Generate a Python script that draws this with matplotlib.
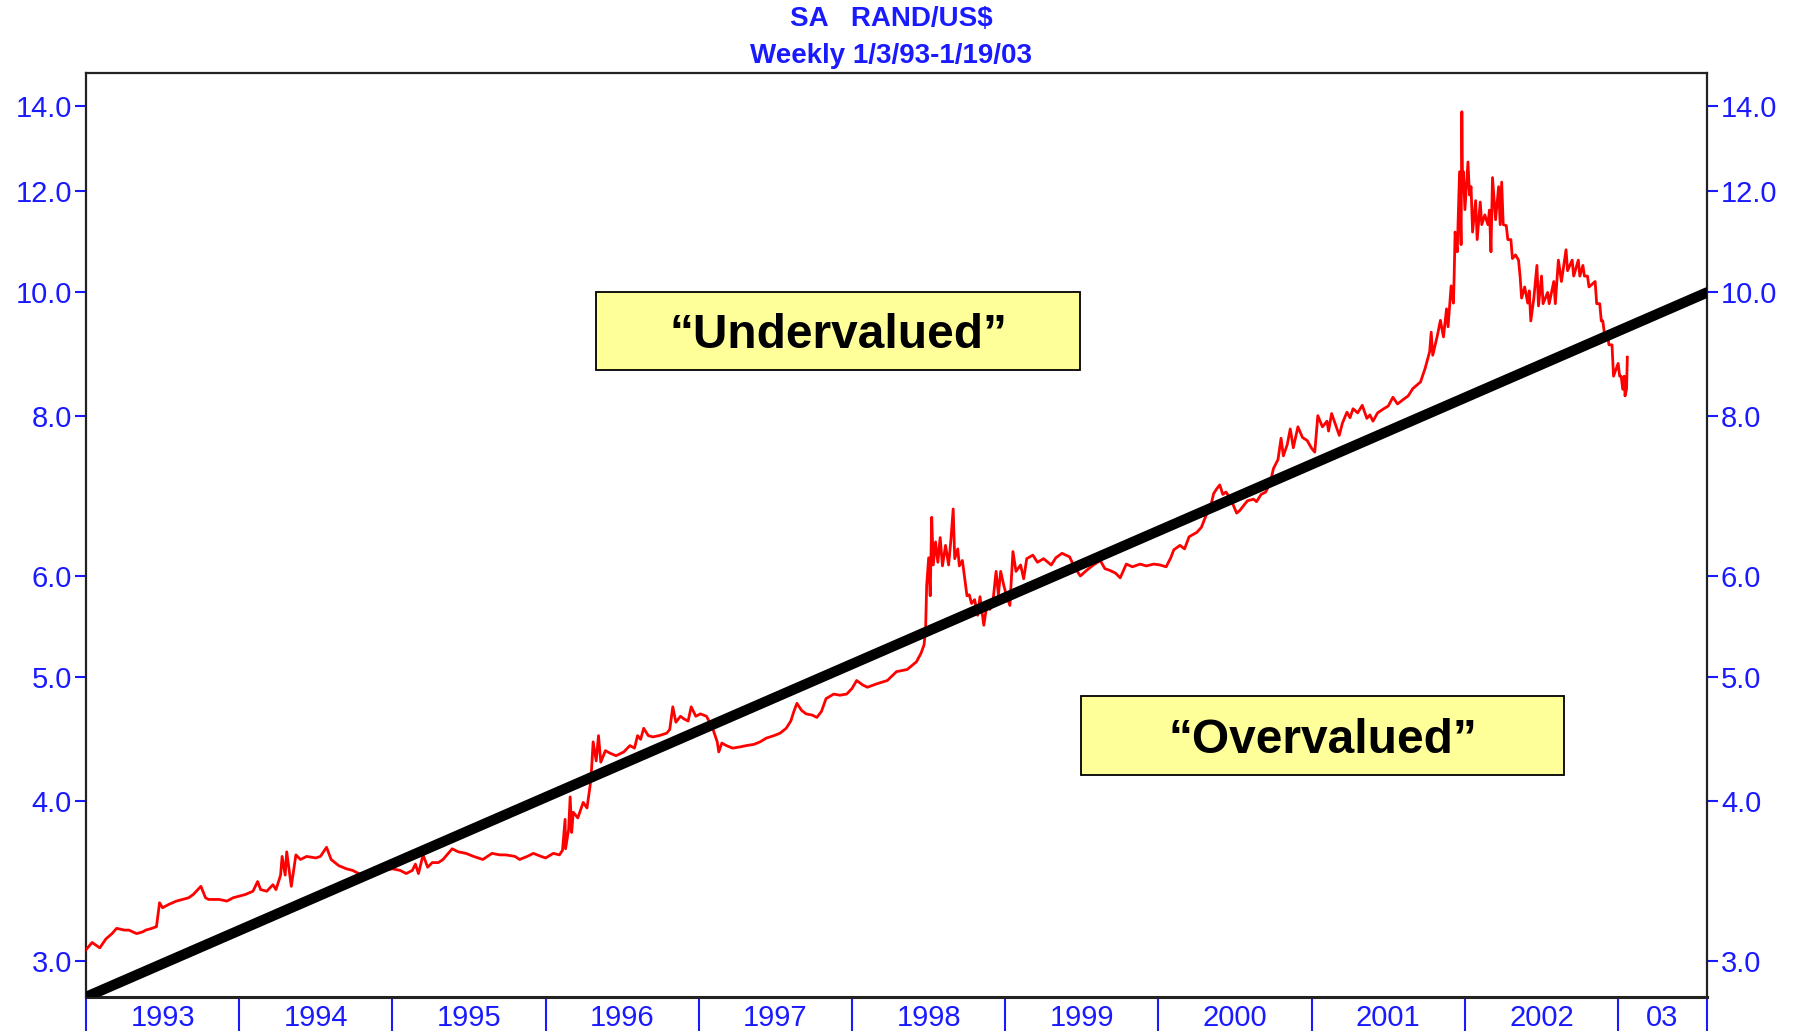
import matplotlib
matplotlib.use("Agg")
import matplotlib.pyplot as plt
from matplotlib.patches import Rectangle
from matplotlib.ticker import FixedLocator, FixedFormatter, NullLocator

# ---------------- data ----------------
title_line1 = "SA   RAND/US$"
title_line2 = "Weekly 1/3/93-1/19/03"

# weekly readings: time in decimal years, rand per US dollar
dates = [
    1993.00, 1993.04, 1993.09, 1993.13, 1993.17, 1993.20, 1993.25, 1993.28, 1993.33, 1993.37,
    1993.39, 1993.43, 1993.46, 1993.48, 1993.50, 1993.54, 1993.59, 1993.63, 1993.67, 1993.70,
    1993.73, 1993.75, 1993.78, 1993.80, 1993.87, 1993.92, 1993.96, 1994.00, 1994.04, 1994.09,
    1994.12, 1994.14, 1994.18, 1994.22, 1994.24, 1994.27, 1994.28, 1994.30, 1994.31, 1994.34,
    1994.37, 1994.40, 1994.44, 1994.50, 1994.53, 1994.57, 1994.60, 1994.65, 1994.70, 1994.74,
    1994.78, 1994.83, 1994.87, 1994.92, 1995.00, 1995.05, 1995.09, 1995.13, 1995.15, 1995.17,
    1995.20, 1995.23, 1995.26, 1995.30, 1995.33, 1995.39, 1995.43, 1995.48, 1995.53, 1995.59,
    1995.65, 1995.70, 1995.74, 1995.80, 1995.83, 1995.88, 1995.92, 1995.97, 1996.00, 1996.05,
    1996.09,
    1996.11, 1996.127, 1996.13, 1996.15, 1996.16, 1996.17, 1996.18, 1996.21, 1996.245, 1996.27,
    1996.29, 1996.30, 1996.31, 1996.33, 1996.345, 1996.36, 1996.39, 1996.42, 1996.46, 1996.51,
    1996.55, 1996.58, 1996.60, 1996.62, 1996.64, 1996.67, 1996.70, 1996.74, 1996.79, 1996.81,
    1996.83, 1996.85, 1996.88, 1996.90, 1996.93, 1996.95, 1996.98, 1997.01, 1997.05, 1997.09,
    1997.12, 1997.13, 1997.15, 1997.18, 1997.22, 1997.27, 1997.31, 1997.36, 1997.40, 1997.44,
    1997.49, 1997.53, 1997.57, 1997.60, 1997.62, 1997.64, 1997.67, 1997.70, 1997.74, 1997.77,
    1997.80, 1997.83, 1997.88, 1997.92, 1997.965, 1998.00, 1998.03, 1998.07, 1998.10, 1998.16,
    1998.23, 1998.29, 1998.36, 1998.42, 1998.45, 1998.47,
    1998.48, 1998.487, 1998.50, 1998.51, 1998.52, 1998.53, 1998.545, 1998.56, 1998.575, 1998.59,
    1998.61, 1998.63, 1998.645, 1998.66, 1998.67, 1998.69, 1998.70, 1998.72, 1998.75, 1998.765,
    1998.78, 1998.80, 1998.82, 1998.835, 1998.86, 1998.88, 1998.90, 1998.92, 1998.94, 1998.955,
    1998.97, 1998.99, 1999.01, 1999.03, 1999.05, 1999.07, 1999.10, 1999.12, 1999.14, 1999.18,
    1999.21, 1999.25, 1999.30, 1999.33, 1999.37, 1999.42, 1999.45, 1999.49, 1999.53, 1999.575,
    1999.62, 1999.65, 1999.684, 1999.72, 1999.75, 1999.79, 1999.83, 1999.88, 1999.92, 1999.97,
    2000.01, 2000.05, 2000.08, 2000.10, 2000.14, 2000.17, 2000.20, 2000.25, 2000.28, 2000.31,
    2000.34, 2000.36, 2000.38, 2000.40, 2000.42, 2000.44, 2000.47, 2000.49, 2000.51, 2000.53,
    2000.58, 2000.62, 2000.64, 2000.67, 2000.70, 2000.73, 2000.75, 2000.78, 2000.80, 2000.815,
    2000.84, 2000.86, 2000.88, 2000.91, 2000.94, 2000.97, 2001.00, 2001.02, 2001.04, 2001.07,
    2001.10, 2001.11, 2001.13, 2001.16, 2001.18, 2001.20, 2001.23, 2001.25, 2001.27, 2001.30,
    2001.33, 2001.36, 2001.38, 2001.40, 2001.43, 2001.47, 2001.50, 2001.53, 2001.56, 2001.60,
    2001.63, 2001.66, 2001.71, 2001.74, 2001.77, 2001.78, 2001.79, 2001.82, 2001.84,
    2001.86, 2001.88, 2001.89, 2001.91, 2001.925, 2001.93, 2001.936, 2001.95, 2001.965, 2001.975,
    2001.98, 2001.985, 2001.99, 2002.00, 2002.02, 2002.03, 2002.04, 2002.05, 2002.07, 2002.08,
    2002.10, 2002.11, 2002.13, 2002.15, 2002.16, 2002.17, 2002.18, 2002.20, 2002.22, 2002.23,
    2002.24, 2002.25, 2002.27, 2002.28, 2002.30, 2002.31, 2002.33, 2002.35, 2002.36, 2002.37,
    2002.39, 2002.41, 2002.42, 2002.43, 2002.45, 2002.47, 2002.48, 2002.50, 2002.51, 2002.54,
    2002.55, 2002.58, 2002.59, 2002.61, 2002.63, 2002.66, 2002.67, 2002.70, 2002.71, 2002.74,
    2002.75, 2002.77, 2002.78, 2002.80, 2002.81, 2002.85, 2002.86, 2002.88, 2002.89, 2002.90,
    2002.91, 2002.93, 2002.94, 2002.96, 2002.97, 2003.00, 2003.01, 2003.02, 2003.03, 2003.04,
    2003.045, 2003.055, 2003.06,
]
rates = [
    3.06, 3.10, 3.07, 3.12, 3.15, 3.18, 3.17, 3.17, 3.15, 3.16,
    3.17, 3.18, 3.19, 3.33, 3.30, 3.32, 3.34, 3.35, 3.36, 3.38,
    3.41, 3.43, 3.36, 3.35, 3.35, 3.34, 3.36, 3.37, 3.38, 3.40,
    3.46, 3.41, 3.40, 3.44, 3.41, 3.50, 3.62, 3.50, 3.65, 3.43,
    3.63, 3.60, 3.62, 3.61, 3.62, 3.68, 3.60, 3.56, 3.54, 3.53,
    3.51, 3.50, 3.52, 3.53, 3.54, 3.53, 3.51, 3.53, 3.57, 3.51,
    3.63, 3.55, 3.58, 3.58, 3.60, 3.67, 3.65, 3.64, 3.62, 3.60,
    3.64, 3.63, 3.63, 3.62, 3.60, 3.62, 3.64, 3.62, 3.61, 3.64,
    3.63,
    3.66, 3.87, 3.67, 3.80, 4.03, 3.78, 3.92, 3.88, 3.99, 3.95,
    4.11, 4.24, 4.45, 4.30, 4.50, 4.29, 4.38, 4.36, 4.34, 4.37,
    4.42, 4.40, 4.50, 4.47, 4.56, 4.50, 4.49, 4.50, 4.52, 4.55,
    4.74, 4.61, 4.66, 4.64, 4.62, 4.74, 4.66, 4.68, 4.66, 4.56,
    4.45, 4.37, 4.44, 4.42, 4.40, 4.41, 4.42, 4.43, 4.45, 4.48,
    4.50, 4.52, 4.56, 4.62, 4.70, 4.77, 4.71, 4.68, 4.67, 4.65,
    4.70, 4.81, 4.85, 4.84, 4.85, 4.90, 4.97, 4.93, 4.91, 4.94,
    4.97, 5.05, 5.07, 5.14, 5.22, 5.30,
    5.45, 5.90, 6.20, 5.79, 6.67, 6.12, 6.38, 6.15, 6.43, 6.11,
    6.34, 6.12, 6.40, 6.77, 6.19, 6.30, 6.11, 6.17, 5.79, 5.80,
    5.71, 5.75, 5.59, 5.78, 5.49, 5.70, 5.65, 5.74, 6.05, 5.80,
    6.05, 5.90, 5.78, 5.69, 6.27, 6.05, 6.12, 5.97, 6.19, 6.23,
    6.15, 6.19, 6.12, 6.20, 6.25, 6.21, 6.10, 6.00, 6.06, 6.12,
    6.17, 6.08, 6.06, 6.03, 5.98, 6.13, 6.10, 6.13, 6.11, 6.13,
    6.12, 6.10, 6.20, 6.29, 6.34, 6.30, 6.44, 6.49, 6.55, 6.69,
    6.80, 6.96, 7.02, 7.07, 6.95, 6.98, 6.90, 6.81, 6.72, 6.75,
    6.87, 6.89, 6.86, 6.95, 6.98, 7.10, 7.28, 7.40, 7.69, 7.45,
    7.60, 7.82, 7.56, 7.85, 7.70, 7.66, 7.55, 7.50, 8.01, 7.85,
    7.93, 7.79, 8.04, 7.85, 7.73, 7.90, 8.06, 7.98, 8.11, 8.05,
    8.16, 7.97, 8.02, 7.93, 8.05, 8.11, 8.15, 8.28, 8.18, 8.25,
    8.30, 8.41, 8.51, 8.72, 8.99, 9.31, 8.93, 9.25, 9.51,
    9.23, 9.71, 9.40, 10.12, 9.81, 10.32, 11.15, 10.76, 12.43, 10.90,
    13.85, 12.00, 12.43, 11.61, 12.65, 11.92, 12.10, 11.15, 11.80, 11.00,
    11.77, 11.30, 11.50, 11.30, 11.60, 10.76, 12.30, 11.40, 12.10, 11.30,
    12.20, 11.30, 11.28, 11.00, 11.00, 10.63, 10.70, 10.60, 10.30, 9.90,
    10.10, 9.81, 10.03, 9.50, 9.90, 10.50, 9.76, 10.30, 9.80, 10.00,
    9.80, 10.20, 9.80, 10.60, 10.20, 10.80, 10.40, 10.60, 10.30, 10.60,
    10.30, 10.50, 10.30, 10.30, 10.10, 10.20, 9.80, 9.80, 9.50, 9.50,
    9.30, 9.30, 9.10, 9.10, 8.60, 8.80, 8.60, 8.60, 8.40, 8.60,
    8.30, 8.40, 8.90,
]

# trend ("fair value") line: from lower-left corner to 10.0 at the right edge
trend_dates = [1993.0, 2003.58]
trend_values = [2.81, 10.0]

y_ticks = [3.0, 4.0, 5.0, 6.0, 8.0, 10.0, 12.0, 14.0]
y_tick_labels = ["3.0", "4.0", "5.0", "6.0", "8.0", "10.0", "12.0", "14.0"]
year_bounds = [1993, 1994, 1995, 1996, 1997, 1998, 1999, 2000, 2001, 2002, 2003, 2003.58]
year_labels = ["1993", "1994", "1995", "1996", "1997", "1998", "1999", "2000",
               "2001", "2002", "03"]

label_under = "\u201cUndervalued\u201d"
label_over = "\u201cOvervalued\u201d"

# ---------------- styling ----------------
BLUE = "#1a1aff"
FONT = ["Liberation Sans", "DejaVu Sans"]
plt.rcParams["font.family"] = FONT

fig = plt.figure(figsize=(17.95, 10.31), dpi=100)
fig.patch.set_facecolor("white")
ax = fig.add_axes([0.04791, 0.03298, 0.90306, 0.8962])

ax.plot(dates, rates, color="#ff0000", lw=2.0, zorder=3)
ax.plot(trend_dates, trend_values, color="black", lw=7.5,
        solid_capstyle="round", zorder=4)

ax.set_yscale("log")
ax.set_xlim(year_bounds[0], year_bounds[-1])
ax.set_ylim(2.81, 14.85)

ax.yaxis.set_major_locator(FixedLocator(y_ticks))
ax.yaxis.set_major_formatter(FixedFormatter(y_tick_labels))
ax.yaxis.set_minor_locator(NullLocator())
ax.tick_params(axis="y", which="major", direction="out", length=8, width=1.5,
               color=BLUE, labelcolor=BLUE, labelsize=21, pad=2,
               left=True, right=True, labelleft=True, labelright=True)

# x: boundary ticks (long, blue) and centred year labels
ax.xaxis.set_major_locator(FixedLocator(year_bounds))
ax.xaxis.set_major_formatter(FixedFormatter([""] * len(year_bounds)))
mids = [(year_bounds[i] + year_bounds[i + 1]) / 2 for i in range(len(year_bounds) - 1)]
ax.xaxis.set_minor_locator(FixedLocator(mids))
ax.xaxis.set_minor_formatter(FixedFormatter(year_labels))
ax.tick_params(axis="x", which="major", direction="out", length=25, width=1.5,
               color=BLUE)
ax.tick_params(axis="x", which="minor", length=0, labelcolor=BLUE,
               labelsize=21, pad=5)

for s in ax.spines.values():
    s.set_color("#222222")
    s.set_linewidth(1.6)
ax.spines["bottom"].set_linewidth(2.2)

# annotation boxes
for (x0, y0, w, h, txt) in [(0.3146, 0.6786, 0.2986, 0.0844, label_under),
                            (0.6138, 0.2403, 0.2980, 0.0855, label_over)]:
    ax.add_patch(Rectangle((x0, y0), w, h, transform=ax.transAxes,
                           facecolor="#ffff99", edgecolor="black", lw=1.3,
                           zorder=5))
    ax.text(x0 + w / 2, y0 + h / 2 - 0.005, txt, transform=ax.transAxes,
            ha="center", va="center", fontsize=34.5, fontweight="bold",
            color="black", zorder=6)

fig.text(0.4964, 0.9815, title_line1, ha="center", va="center",
         fontsize=20, fontweight="bold", color=BLUE)
fig.text(0.4964, 0.9456, title_line2, ha="center", va="center",
         fontsize=20, fontweight="bold", color=BLUE)

fig.savefig("out.png", dpi=100, facecolor="white")
